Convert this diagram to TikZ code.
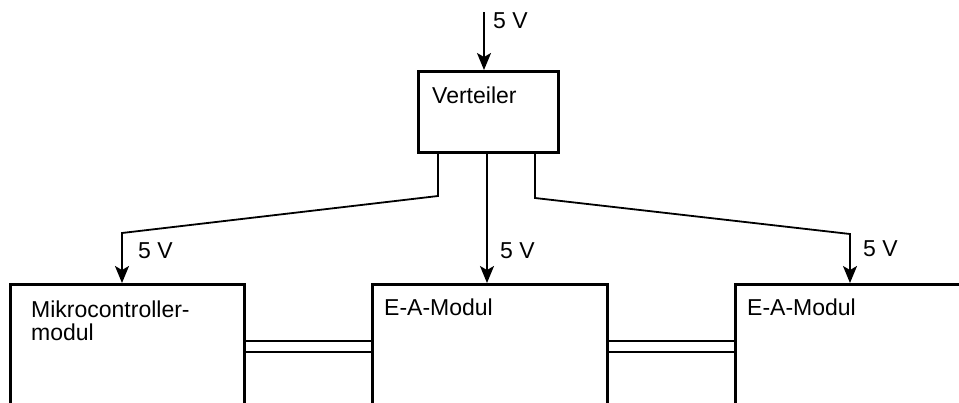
\documentclass[tikz,border=0pt]{standalone}
\usepackage{fontspec}
\setmainfont{Liberation Sans}
\usetikzlibrary{arrows.meta}
\begin{document}
\begin{tikzpicture}[x=1pt,y=-1pt,
 box/.style={draw,line width=2.6pt,anchor=north west,inner sep=0pt},
 lbl/.style={font=\fontsize{23}{23}\selectfont,anchor=base west,inner sep=0pt},
 wire/.style={line width=1.8pt},
 arr/.style={wire,-{Stealth[length=17pt,width=14pt,inset=4pt]}},
 bus/.style={line width=1.4pt}]
\useasboundingbox (0,0) rectangle (959,402);
\clip (0,0) rectangle (959,402);
% boxes
\node[box,minimum width=140pt,minimum height=81pt] (vt) at (417,70) {};
\node[box,minimum width=234pt,minimum height=200pt] (m1) at (9,283) {};
\node[box,minimum width=235pt,minimum height=200pt] (m2) at (371,283) {};
\node[box,minimum width=300pt,minimum height=200pt] (m3) at (734,283) {};
% texts
\node[lbl] (tvt) at (432,103) {Verteiler};
\node[lbl] (tm1a) at (31,317) {Mikrocontroller-};
\node[lbl] (tm1b) at (31,340) {modul};
\node[lbl] (tm2) at (384,315) {E-A-Modul};
\node[lbl] (tm3) at (747,315) {E-A-Modul};
% labels
\node[lbl] (l0) at (493,28) {5 V};
\node[lbl] (l1) at (138,258) {5 V};
\node[lbl] (l2) at (500,258) {5 V};
\node[lbl] (l3) at (863,256) {5 V};
% coordinates
\coordinate (in) at (484,12);
\coordinate (o1) at (438,151);
\coordinate (o2) at (487,151);
\coordinate (o3) at (535,151);
\coordinate (k1a) at (438,196);
\coordinate (k1b) at (122,233);
\coordinate (k3a) at (535,198);
\coordinate (k3b) at (850,234);
\coordinate (bA) at (0,341);
\coordinate (bB) at (0,352);
% connectors
\draw[arr] (in) -- (vt.north -| in);
\draw[arr] (vt.south -| o1) -- (k1a) -- (k1b) -- (m1.north -| k1b);
\draw[arr] (vt.south -| o2) -- (m2.north -| o2);
\draw[arr] (vt.south -| o3) -- (k3a) -- (k3b) -- (m3.north -| k3b);
% buses
\draw[bus] (m1.east |- bA) -- (m2.west |- bA);
\draw[bus] (m1.east |- bB) -- (m2.west |- bB);
\draw[bus] (m2.east |- bA) -- (m3.west |- bA);
\draw[bus] (m2.east |- bB) -- (m3.west |- bB);
\end{tikzpicture}
\end{document}
